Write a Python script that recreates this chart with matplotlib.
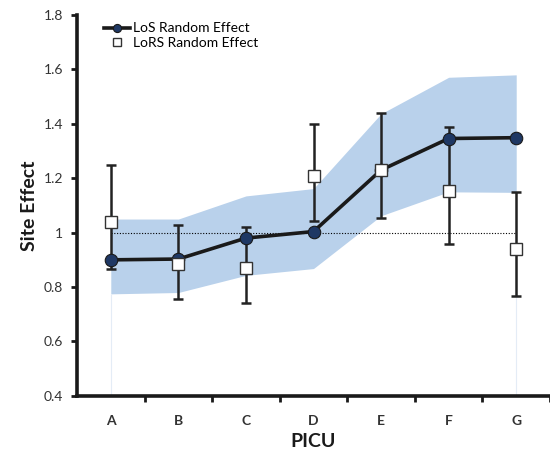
import matplotlib.pyplot as plt

plt.rcParams['font.family'] = ['Lato', 'DejaVu Sans']

sites = ['A', 'B', 'C', 'D', 'E', 'F', 'G']

los_effect = [0.90, 0.903, 0.98, 1.004, 1.23, 1.346, 1.349]
los_lower = [0.775, 0.78, 0.843, 0.868, 1.062, 1.15, 1.148]
los_upper = [1.05, 1.05, 1.135, 1.162, 1.437, 1.571, 1.58]

lors_effect = [1.04, 0.885, 0.87, 1.207, 1.23, 1.153, 0.94]
lors_lower = [0.865, 0.757, 0.743, 1.041, 1.052, 0.958, 0.768]
lors_upper = [1.249, 1.028, 1.019, 1.399, 1.438, 1.387, 1.150]

x = list(range(len(sites)))

fig = plt.figure(figsize=(5.5, 4.54), dpi=100)
ax = fig.add_axes([0.14, 0.128, 0.86, 0.839])

# confidence band for LoS
ax.fill_between(x, los_lower, los_upper, color='#b9d1eb', lw=0, zorder=1)
ax.vlines([x[0], x[-1]], 0.4, [los_lower[0], los_lower[-1]], color='#e4ecf6', lw=0.8, zorder=1)

ax.plot([x[0], x[-1]], [1, 1], color='black', lw=0.8, ls=(0, (1, 1.5)), zorder=2)

# LoRS error bars + squares
err_lo = [e - l for e, l in zip(lors_effect, lors_lower)]
err_hi = [u - e for e, u in zip(lors_effect, lors_upper)]
ax.errorbar(x, lors_effect, yerr=[err_lo, err_hi], fmt='none', ecolor='#222222',
            elinewidth=1.8, capsize=3.5, capthick=1.8, zorder=3)

ax.plot(x, los_effect, color='#1a1a1a', lw=2.6, marker='o', ms=9,
        mfc='#1f3864', mec='#1a1a1a', mew=0.8, zorder=4, label='LoS Random Effect')
ax.plot(x, lors_effect, ls='none', marker='s', ms=8.5, mfc='white', mec='#333333',
        mew=1.0, zorder=5, label='LoRS Random Effect')

ax.set_xlim(-0.5, 6.43)
ax.set_ylim(0.4, 1.8)
ax.set_yticks([0.4, 0.6, 0.8, 1.0, 1.2, 1.4, 1.6, 1.8])
ax.set_yticklabels(['0.4', '0.6', '0.8', '1', '1.2', '1.4', '1.6', '1.8'], fontsize=10, color='#333333')
ax.set_xticks([i + 0.5 for i in range(len(sites))])
ax.set_xticklabels([])
ax.set_xticks(x, minor=True)
ax.set_xticklabels(sites, minor=True, fontsize=10, fontweight='bold', color='#333333')
ax.tick_params(axis='x', which='minor', length=0, pad=14)
ax.tick_params(axis='x', which='major', length=4, width=2, direction='out', color='#1a1a1a')
ax.tick_params(axis='y', length=4, width=2, direction='out', color='#1a1a1a', pad=6)

for side in ['top', 'right']:
    ax.spines[side].set_visible(False)
for side in ['left', 'bottom']:
    ax.spines[side].set_linewidth(2.6)
    ax.spines[side].set_color('#1a1a1a')

ax.set_xlabel('PICU', fontsize=14, fontweight='bold', color='#1a1a1a', labelpad=4)
ax.set_ylabel('Site Effect', fontsize=14, fontweight='bold', color='#1a1a1a', labelpad=4)

ax.legend(loc='upper left', bbox_to_anchor=(0.045, 0.995), frameon=False, fontsize=10,
          handlelength=1.9, handletextpad=0.2, labelspacing=0.2, borderaxespad=0,
          markerscale=0.65)

fig.savefig('out.png', dpi=100)
